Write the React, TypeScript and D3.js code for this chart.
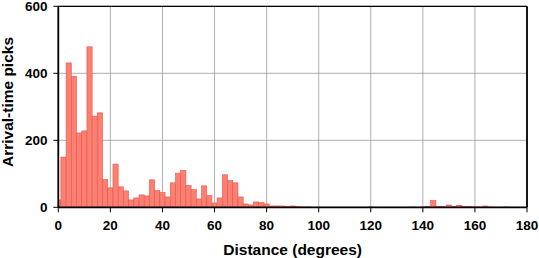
import React from "react";
import * as d3 from "d3";

// Histogram bins centred on even degrees (bin width 2°)
const binCenters: number[] = d3.range(0, 182, 2);
const counts: number[] = [
  22, 150, 431, 391, 222, 228, 479, 272, 282, 83, // 0-18
  58, 129, 61, 49, 22, 28, 37, 34, 82, 50, // 20-38
  44, 31, 73, 102, 110, 65, 53, 25, 64, 35, // 40-58
  13, 28, 97, 80, 73, 31, 10, 7, 16, 14, // 60-78
  10, 4, 4, 4, 2, 4, 2, 1, 1, 0, // 80-98
  0, 0, 0, 0, 0, 0, 0, 0, 0, 0, // 100-118
  1, 0, 0, 0, 0, 0, 0, 0, 1, 0, // 120-138
  1, 3, 20, 3, 2, 7, 3, 6, 3, 3, // 140-158
  1, 1, 4, 1, 0, 0, 1, 0, 0, 0, // 160-178
  0, // 180
];
const xTicks: number[] = [0, 20, 40, 60, 80, 100, 120, 140, 160, 180];
const yTicks: number[] = [0, 200, 400, 600];
const xTitle = "Distance (degrees)";
const yTitle = "Arrival-time picks";

export default function App() {
  const W = 539, H = 258;
  const left = 58.3, right = 527, top = 6.3, bottom = 207.3;
  const x = d3.scaleLinear().domain([0, 180]).range([left, right]);
  const y = d3.scaleLinear().domain([0, 600]).range([bottom, top]);
  const font = "'Liberation Sans', Arial, Helvetica, sans-serif";
  const bars = binCenters.map((c, i) => ({ x0: Math.max(0, c - 1), x1: Math.min(180, c + 1), v: counts[i] }));

  return (
    <svg width={W} height={H} style={{ position: "absolute", left: 0, top: 0, background: "#fff" }}>
      {/* grid */}
      <g stroke="#9a9a9a" strokeWidth={0.8}>
        {xTicks.map((t) => (
          <line key={"gx" + t} x1={x(t)} x2={x(t)} y1={top} y2={bottom} />
        ))}
        {yTicks.map((t) => (
          <line key={"gy" + t} x1={left} x2={right} y1={y(t)} y2={y(t)} />
        ))}
      </g>
      {/* bars */}
      <g>
        {bars.filter((b) => b.v > 0).map((b, i) => (
          <rect
            key={i}
            x={x(b.x0)}
            width={x(b.x1) - x(b.x0)}
            y={y(b.v)}
            height={y(0) - y(b.v)}
            fill="#fa8072"
            stroke="#f0514a"
            strokeWidth={0.6}
          />
        ))}
      </g>
      {/* frame */}
      <g stroke="#000">
        <line x1={left} x2={right} y1={top} y2={top} strokeWidth={1.3} />
        <line x1={left} x2={right} y1={bottom} y2={bottom} strokeWidth={1.8} />
        <line x1={left} x2={left} y1={top} y2={bottom} strokeWidth={1.8} />
        <line x1={right} x2={right} y1={top} y2={bottom} strokeWidth={1.8} />
      </g>
      {/* ticks */}
      <g stroke="#000" strokeWidth={1}>
        {xTicks.map((t) => (
          <line key={"tx" + t} x1={x(t)} x2={x(t)} y1={bottom} y2={bottom + 5} />
        ))}
        {yTicks.map((t) => (
          <line key={"ty" + t} x1={left - 5} x2={left} y1={y(t)} y2={y(t)} />
        ))}
      </g>
      <g fontFamily={font} fontWeight="bold" fontSize={13.5} fill="#000">
        {xTicks.map((t) => (
          <text key={"lx" + t} x={x(t)} y={229.5} textAnchor="middle">{t}</text>
        ))}
        {yTicks.map((t) => (
          <text key={"ly" + t} x={47.5} y={y(t) + 4.8} textAnchor="end">{t}</text>
        ))}
      </g>
      <text x={(left + right) / 2} y={255} textAnchor="middle" fontFamily={font} fontWeight="bold" fontSize={15.5}>
        {xTitle}
      </text>
      <text
        transform={`translate(12.5,102) rotate(-90)`}
        textAnchor="middle"
        fontFamily={font}
        fontWeight="bold"
        fontSize={15.5}
      >
        {yTitle}
      </text>
    </svg>
  );
}
